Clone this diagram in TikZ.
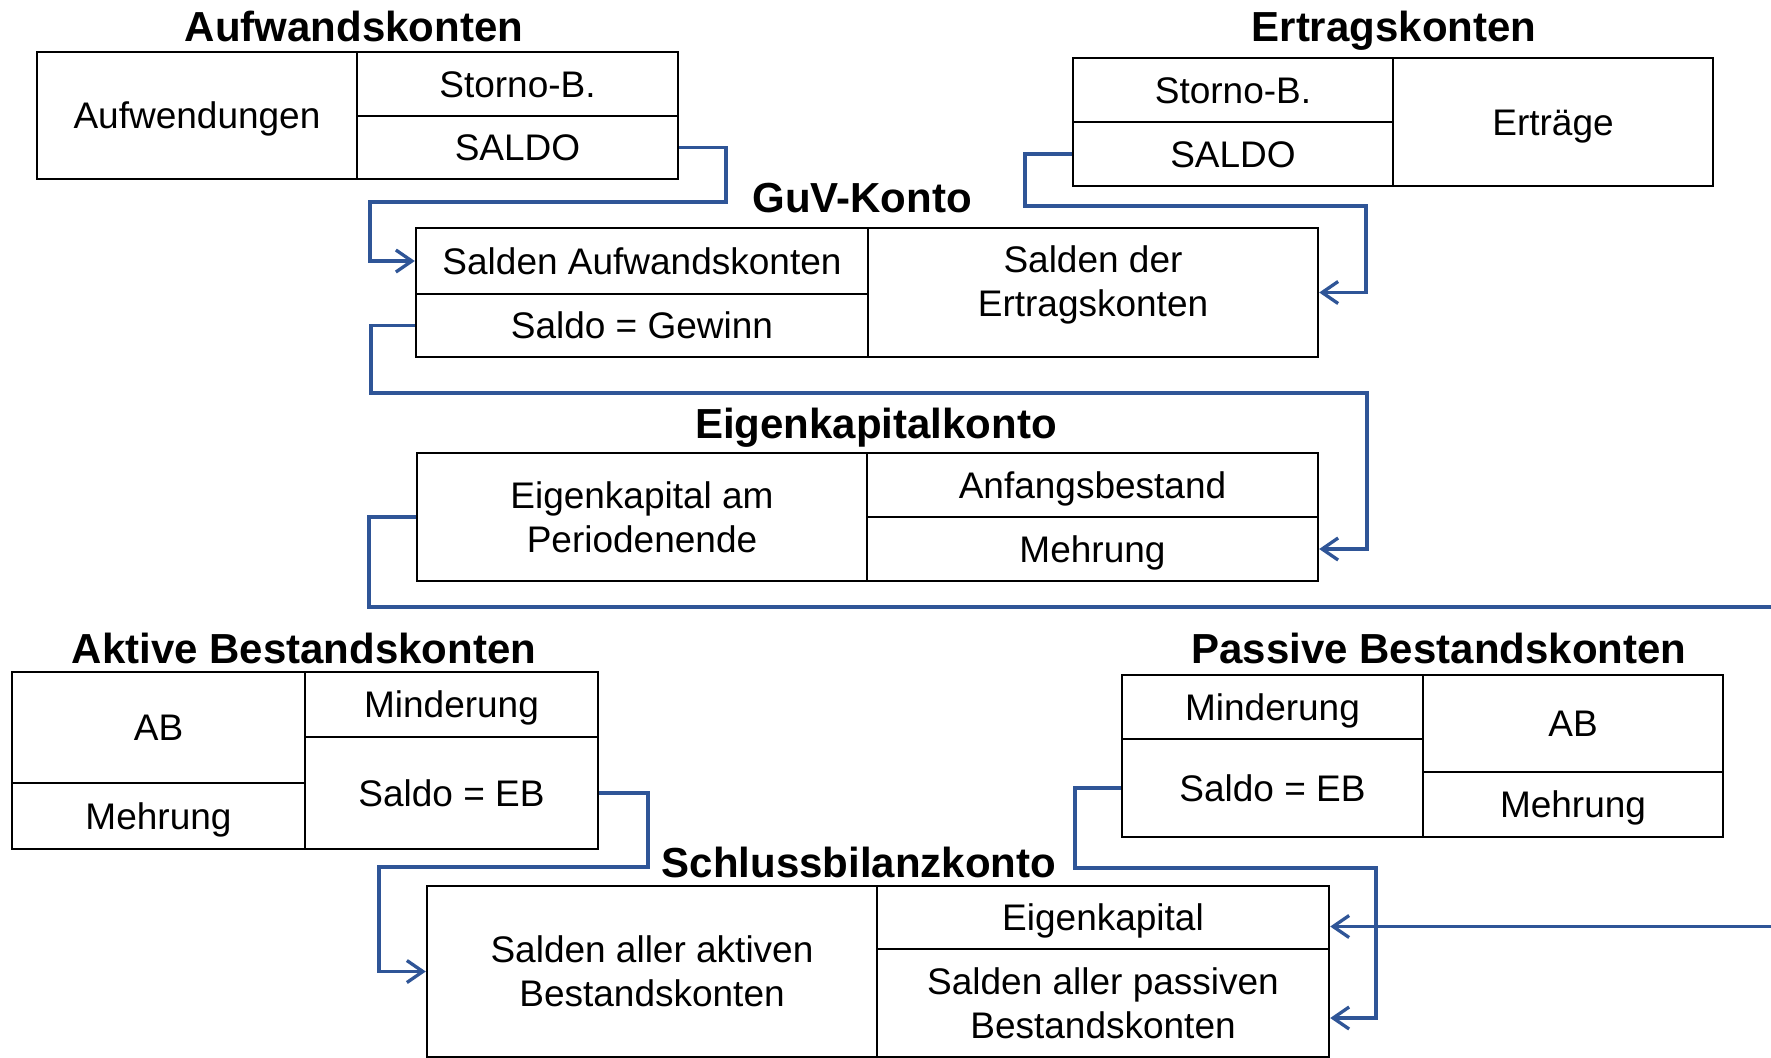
\documentclass[tikz,border=0pt]{standalone}
\usepackage{fontspec}
\setmainfont{Liberation Sans}
\usetikzlibrary{arrows.meta,calc}

\definecolor{linkblue}{HTML}{2F5597}

% body and heading fonts
\newcommand\bodyfont{\fontsize{18.5pt}{22.2pt}\selectfont}
\newcommand\headfont{\fontsize{21pt}{25pt}\selectfont\bfseries}
% line strut: height minus depth equals the cap height, so text is centred on its capitals
\newcommand\sr{\rule[-4pt]{0pt}{21.25pt}}
% last-line strut with extra depth, lifts a text block inside its cell
\newcommand\srlow{\rule[-15pt]{0pt}{32.25pt}}

% one account cell given by its corners (x1,y1) (x2,y2)
\newcommand\cell[6]{%
  \pgfmathsetmacro\cellw{(#4-#2)*0.5}%
  \pgfmathsetmacro\cellh{(#5-#3)*0.5}%
  \node[cell, minimum width=\cellw pt, minimum height=\cellh pt] (#1)
    at ({(#2+#4)/2},{(#3+#5)/2}) {#6};}

\begin{document}
\begin{tikzpicture}[x=0.5pt, y=-0.5pt,
  cell/.style={draw, line width=1.2pt, inner sep=0pt, align=center, font=\bodyfont},
  heading/.style={anchor=base, inner sep=0pt, font=\headfont},
  conn/.style={draw=linkblue, line width=1.65pt,
    -{Straight Barb[length=8pt,width=11pt,line width=1.65pt]}}]

\clip (0,0) rectangle (1771,1057);
\fill[white] (0,0) rectangle (1771,1057);

% Aufwandskonten
\node[heading] (tAuf) at (354,41) {Aufwandskonten};
\cell{aufL}{37}{52}{357}{179}{\sr Aufwendungen}
\cell{aufS}{357}{52}{678}{116}{\sr Storno-B.}
\cell{aufSaldo}{357}{116}{678}{179}{\sr SALDO}

% Ertragskonten
\node[heading] (tErt) at (1394,41) {Ertragskonten};
\cell{ertS}{1073}{58}{1393}{122}{\sr Storno-B.}
\cell{ertSaldo}{1073}{122}{1393}{186}{\sr SALDO}
\cell{ertE}{1393}{58}{1713}{186}{\sr Erträge}

% GuV-Konto
\node[heading] (tGuV) at (862,212) {GuV-Konto};
\cell{guvA}{416}{228}{868}{294}{\sr Salden Aufwandskonten}
\cell{guvG}{416}{294}{868}{357}{\sr Saldo = Gewinn}
\cell{guvE}{868}{228}{1318}{357}{\sr Salden der\\\sr Ertragskonten\srlow}

% Eigenkapitalkonto
\node[heading] (tEK) at (876,438) {Eigenkapitalkonto};
\cell{ekL}{417}{453}{867}{581}{\sr Eigenkapital am\\\sr Periodenende}
\cell{ekA}{867}{453}{1318}{517}{\sr Anfangsbestand}
\cell{ekM}{867}{517}{1318}{581}{\sr Mehrung}

% Aktive Bestandskonten
\node[heading] (tAkt) at (304,663) {Aktive Bestandskonten};
\cell{akAB}{12}{672}{305}{783}{\sr AB}
\cell{akM}{12}{783}{305}{849}{\sr Mehrung}
\cell{akMin}{305}{672}{598}{737}{\sr Minderung}
\cell{akS}{305}{737}{598}{849}{\sr Saldo = EB}

% Passive Bestandskonten
\node[heading] (tPas) at (1439,663) {Passive Bestandskonten};
\cell{paMin}{1122}{675}{1423}{739}{\sr Minderung}
\cell{paS}{1122}{739}{1423}{837}{\sr Saldo = EB}
\cell{paAB}{1423}{675}{1723}{772}{\sr AB}
\cell{paM}{1423}{772}{1723}{837}{\sr Mehrung}

% Schlussbilanzkonto
\node[heading] (tSBK) at (859,877) {Schlussbilanzkonto};
\cell{sbA}{427}{886}{877}{1057}{\sr Salden aller aktiven\\\sr Bestandskonten}
\cell{sbE}{877}{886}{1329}{949}{\sr Eigenkapital}
\cell{sbP}{877}{949}{1329}{1057}{\sr Salden aller passiven\\\sr Bestandskonten}

% closing entries
\draw[conn] (aufSaldo.east) -| (726,202) -- (370,202) |- (guvA.west);
\draw[conn] (ertSaldo.west) -| (1025,206) -- (1366,206) |- (guvE.east);
\draw[conn] (guvG.west) -| (371,393) -- (1367,393) |- (ekM.east);
\draw[conn] (ekL.west) -| (369,607) -- (1800,607) |- ($(sbE.east)+(0,9)$);
\draw[conn] (akS.east) -| (648,867) -- (379,867) |- (sbA.west);
\draw[conn] (paS.west) -| (1075,868) -- (1376,868) |- ($(sbP.east)+(0,15)$);
\end{tikzpicture}
\end{document}
